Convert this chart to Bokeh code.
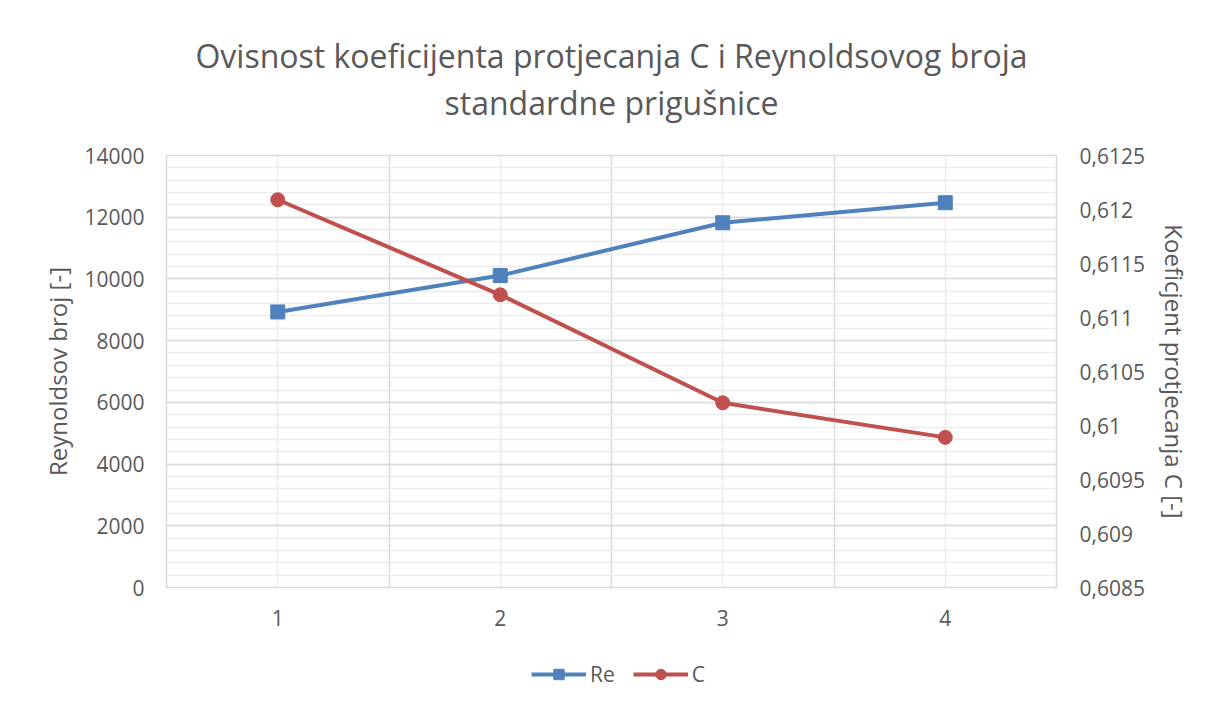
from bokeh.plotting import figure
from bokeh.layouts import column
from bokeh.models import (Range1d, LinearAxis, FixedTicker, CustomJSTickFormatter,
                          Legend, LegendItem, Title, ColumnDataSource)
from bokeh.embed import file_html
from bokeh.resources import INLINE

# ---- data ----
mjerenje = [1, 2, 3, 4]
re_vals = [8930, 10110, 11820, 12470]
c_vals = [0.61209, 0.61121, 0.61021, 0.60989]
re_ticks = [0, 2000, 4000, 6000, 8000, 10000, 12000, 14000]
re_minor = list(range(0, 14001, 400))
c_ticks = [0.6085, 0.609, 0.6095, 0.61, 0.6105, 0.611, 0.6115, 0.612, 0.6125]
x_ticks = [1, 2, 3, 4]
x_major_grid = [1.5, 2.5, 3.5]
title_lines = ["Ovisnost koeficijenta protjecanja C i Reynoldsovog broja",
               "standardne prigušnice"]
y_left_label = "Reynoldsov broj [-]"
y_right_label = "Koeficjent protjecanja C [-]"
series_names = ["Re", "C"]

FONT = "Open Sans"
TXT = "#595959"
BLUE = "#4F81BD"
RED = "#C0504D"

p = figure(frame_width=890, frame_height=432,
           x_range=Range1d(0.5, 4.5), y_range=Range1d(0, 14000),
           output_backend="svg", toolbar_location=None, title=None,
           min_border_left=166, min_border_right=144,
           min_border_top=155, min_border_bottom=52)
p.extra_y_ranges = {"c": Range1d(c_ticks[0], c_ticks[-1])}

# spacer between plot and title, then the two title lines (stacked outward)
p.add_layout(Title(text="\u00a0", text_font=FONT, text_font_size="20px",
                   standoff=2), "above")
p.add_layout(Title(text=title_lines[1], align="center", text_font=FONT,
                   text_font_size="32px", text_color=TXT, text_line_height=0.9,
                   text_font_style="normal", standoff=2), "above")
p.add_layout(Title(text=title_lines[0], align="center", text_font=FONT,
                   text_font_size="32px", text_color=TXT, text_line_height=0.9,
                   text_font_style="normal", standoff=2), "above")

def style_axis(ax):
    ax.axis_line_color = None
    ax.major_tick_line_color = None
    ax.minor_tick_line_color = None
    ax.major_tick_out = 0
    ax.minor_tick_out = 0
    ax.major_label_text_font = FONT
    ax.major_label_text_font_size = "21px"
    ax.major_label_text_color = TXT
    ax.axis_label_text_font = FONT
    ax.axis_label_text_font_size = "24px"
    ax.axis_label_text_color = TXT
    ax.axis_label_text_font_style = "normal"

# left axis
yl = p.yaxis[0]
yl.ticker = FixedTicker(ticks=re_ticks)
yl.axis_label = y_left_label
style_axis(yl)
yl.major_label_standoff = 22
yl.axis_label_standoff = 7

# bottom axis
xa = p.xaxis[0]
xa.ticker = FixedTicker(ticks=x_ticks)
style_axis(xa)
xa.major_label_standoff = 22

# right axis
yr = LinearAxis(y_range_name="c", axis_label=y_right_label)
yr.ticker = FixedTicker(ticks=c_ticks)
yr.formatter = CustomJSTickFormatter(
    code="return String(Math.round(tick*100000)/100000).replace('.', ',');")
style_axis(yr)
yr.major_label_standoff = 23
yr.axis_label_standoff = 10
p.add_layout(yr, "right")

# grids
p.ygrid.ticker = FixedTicker(ticks=re_ticks, minor_ticks=re_minor)
p.ygrid.grid_line_color = "#d9d9d9"
p.ygrid.grid_line_width = 1.5
p.ygrid.minor_grid_line_color = "#ececec"
p.ygrid.minor_grid_line_width = 1.5
p.xgrid.ticker = FixedTicker(ticks=x_major_grid, minor_ticks=x_ticks)
p.xgrid.grid_line_color = "#d9d9d9"
p.xgrid.grid_line_width = 1.5
p.xgrid.minor_grid_line_color = "#ececec"
p.xgrid.minor_grid_line_width = 1.5
p.outline_line_color = "#d9d9d9"
p.outline_line_width = 1.5

src_re = ColumnDataSource(dict(x=mjerenje, y=re_vals))
src_c = ColumnDataSource(dict(x=mjerenje, y=c_vals))

p.line("x", "y", source=src_re, line_color=BLUE, line_width=4)
p.scatter("x", "y", source=src_re, marker="square", size=14,
          fill_color=BLUE, line_color=BLUE)
p.line("x", "y", source=src_c, y_range_name="c", line_color=RED, line_width=4)
p.scatter("x", "y", source=src_c, y_range_name="c", marker="circle", size=14,
          fill_color=RED, line_color=RED)

# ---- legend strip below the chart (its glyphs lie outside its own ranges) ----
pl = figure(width=1200, height=60, output_backend="svg", toolbar_location=None,
            x_range=Range1d(100, 101), y_range=Range1d(100, 101),
            x_axis_location=None, y_axis_location=None, min_border=0)
pl.outline_line_color = None
pl.grid.visible = False
k1 = pl.line("x", "y", source=src_re, line_color=BLUE, line_width=4)
k2 = pl.scatter("x", "y", source=src_re, marker="square", size=14,
                fill_color=BLUE, line_color=BLUE)
k3 = pl.line("x", "y", source=src_c, line_color=RED, line_width=4)
k4 = pl.scatter("x", "y", source=src_c, marker="circle", size=14,
                fill_color=RED, line_color=RED)
legend = Legend(items=[LegendItem(label=series_names[0], renderers=[k1, k2]),
                       LegendItem(label=series_names[1], renderers=[k3, k4])],
                orientation="horizontal", location=(365, 11),
                border_line_color=None, background_fill_alpha=0,
                label_text_font=FONT, label_text_font_size="21px",
                label_text_color=TXT, glyph_width=55, glyph_height=26,
                label_standoff=4, spacing=18, padding=0, margin=0)
pl.add_layout(legend, "center")

open("out.html", "w").write(file_html(column(p, pl), INLINE))
